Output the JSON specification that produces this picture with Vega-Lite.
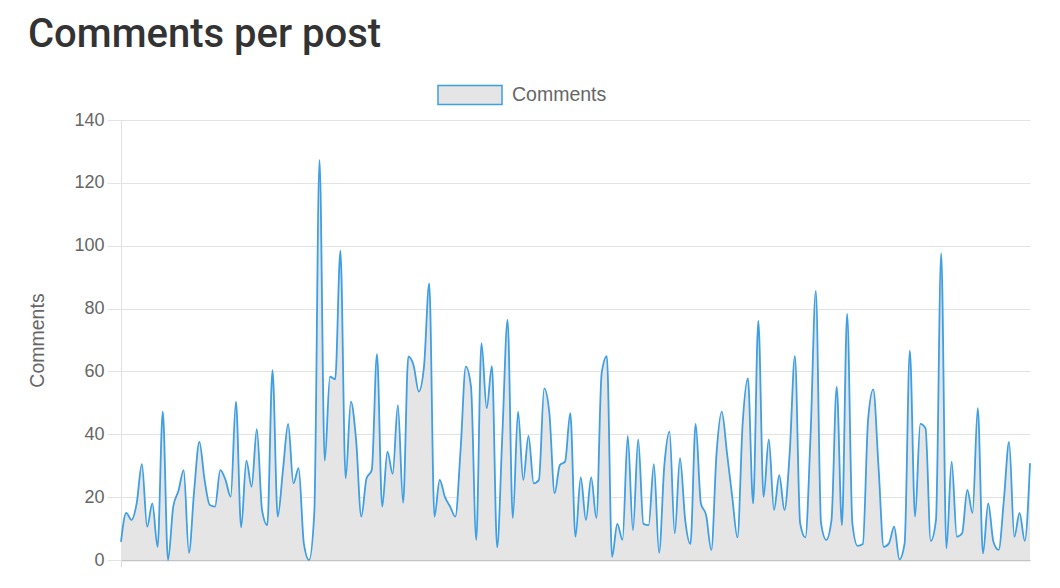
{
  "$schema": "https://vega.github.io/schema/vega-lite/v6.json",
  "autosize": "none",
  "width": 909,
  "height": 440,
  "padding": {"left": 121, "top": 120, "right": 30, "bottom": 28},
  "background": "#ffffff",
  "title": {
    "text": "Comments per post",
    "anchor": "start",
    "frame": "group",
    "dx": -93,
    "offset": 7,
    "font": "Roboto",
    "fontSize": 40,
    "fontWeight": 500,
    "color": "#333333"
  },
  "config": {
    "view": {"stroke": null},
    "font": "Liberation Sans"
  },
  "data": {
    "values": [
      {"i":0,"c":5.8},{"i":1,"c":15},{"i":2,"c":12.7},{"i":3,"c":18},{"i":4,"c":30.5},{"i":5,"c":10.6},{"i":6,"c":18},{"i":7,"c":4.2},{"i":8,"c":47.2},{"i":9,"c":0},
      {"i":10,"c":17},{"i":11,"c":22},{"i":12,"c":28.6},{"i":13,"c":2.3},{"i":14,"c":22},{"i":15,"c":37.6},{"i":16,"c":25.5},{"i":17,"c":17.5},{"i":18,"c":17},{"i":19,"c":28.6},
      {"i":20,"c":25.5},{"i":21,"c":20.1},{"i":22,"c":50.4},{"i":23,"c":10.4},{"i":24,"c":31.6},{"i":25,"c":23.3},{"i":26,"c":41.6},{"i":27,"c":15.9},{"i":28,"c":11.1},{"i":29,"c":60.4},
      {"i":30,"c":13.8},{"i":31,"c":28.6},{"i":32,"c":43.3},{"i":33,"c":24.4},{"i":34,"c":29.2},{"i":35,"c":5.3},{"i":36,"c":0},{"i":37,"c":15},{"i":38,"c":127.3},{"i":39,"c":31.6},
      {"i":40,"c":58.3},{"i":41,"c":57.5},{"i":42,"c":98.4},{"i":43,"c":26},{"i":44,"c":50.4},{"i":45,"c":38.2},{"i":46,"c":13.8},{"i":47,"c":26},{"i":48,"c":28.6},{"i":49,"c":65.5},
      {"i":50,"c":17},{"i":51,"c":34.5},{"i":52,"c":27.4},{"i":53,"c":49.3},{"i":54,"c":18.2},{"i":55,"c":64.7},{"i":56,"c":62},{"i":57,"c":53.6},{"i":58,"c":61.5},{"i":59,"c":88},
      {"i":60,"c":13.8},{"i":61,"c":25.5},{"i":62,"c":20.1},{"i":63,"c":17},{"i":64,"c":13.8},{"i":65,"c":35},{"i":66,"c":61.5},{"i":67,"c":55.1},{"i":68,"c":6.4},{"i":69,"c":69},
      {"i":70,"c":48.3},{"i":71,"c":61.7},{"i":72,"c":4},{"i":73,"c":40},{"i":74,"c":76.4},{"i":75,"c":13.3},{"i":76,"c":47.2},{"i":77,"c":25.5},{"i":78,"c":39.5},{"i":79,"c":24.4},
      {"i":80,"c":25.5},{"i":81,"c":54.6},{"i":82,"c":46.7},{"i":83,"c":21.2},{"i":84,"c":30.2},{"i":85,"c":31.3},{"i":86,"c":46.7},{"i":87,"c":7.4},{"i":88,"c":26.3},{"i":89,"c":12.7},
      {"i":90,"c":26.3},{"i":91,"c":13.3},{"i":92,"c":59.4},{"i":93,"c":64.9},{"i":94,"c":1},{"i":95,"c":11.5},{"i":96,"c":6.4},{"i":97,"c":39.5},{"i":98,"c":9.5},{"i":99,"c":38.4},
      {"i":100,"c":11.5},{"i":101,"c":11.1},{"i":102,"c":30.5},{"i":103,"c":2.3},{"i":104,"c":30},{"i":105,"c":40.8},{"i":106,"c":8.5},{"i":107,"c":32.4},{"i":108,"c":12.7},{"i":109,"c":5.1},
      {"i":110,"c":43.3},{"i":111,"c":18},{"i":112,"c":14.3},{"i":113,"c":3.2},{"i":114,"c":34},{"i":115,"c":47.2},{"i":116,"c":34},{"i":117,"c":20.1},{"i":118,"c":7.2},{"i":119,"c":43.5},
      {"i":120,"c":57.8},{"i":121,"c":18},{"i":122,"c":76.1},{"i":123,"c":20.1},{"i":124,"c":38.4},{"i":125,"c":15.9},{"i":126,"c":27},{"i":127,"c":15.9},{"i":128,"c":34},{"i":129,"c":64.9},
      {"i":130,"c":11.7},{"i":131,"c":7.2},{"i":132,"c":40},{"i":133,"c":85.6},{"i":134,"c":11.7},{"i":135,"c":6.4},{"i":136,"c":12.7},{"i":137,"c":55.1},{"i":138,"c":11.1},{"i":139,"c":78.3},
      {"i":140,"c":11.7},{"i":141,"c":4.5},{"i":142,"c":5.1},{"i":143,"c":44.5},{"i":144,"c":54.3},{"i":145,"c":29.7},{"i":146,"c":4.2},{"i":147,"c":5.3},{"i":148,"c":10.6},{"i":149,"c":0.2},
      {"i":150,"c":5.3},{"i":151,"c":66.6},{"i":152,"c":13.8},{"i":153,"c":43.3},{"i":154,"c":41.9},{"i":155,"c":6.1},{"i":156,"c":12.7},{"i":157,"c":97.6},{"i":158,"c":3.7},{"i":159,"c":31.3},
      {"i":160,"c":7.4},{"i":161,"c":8.5},{"i":162,"c":22.3},{"i":163,"c":15},{"i":164,"c":48.3},{"i":165,"c":2.1},{"i":166,"c":18},{"i":167,"c":5.8},{"i":168,"c":3.2},{"i":169,"c":19.1},
      {"i":170,"c":37.6},{"i":171,"c":7.4},{"i":172,"c":15},{"i":173,"c":6.1},{"i":174,"c":30.8}
    ]
  },
  "encoding": {
    "x": {
      "field": "i",
      "type": "quantitative",
      "scale": {"domain": [0, 174], "nice": false, "zero": false},
      "axis": {
        "title": null,
        "labels": false,
        "grid": false,
        "values": [0],
        "tickSize": 7,
        "tickColor": "#dddddd",
        "domainColor": "#c4c4c4",
        "domainWidth": 1.5
      }
    },
    "y": {
      "field": "c",
      "type": "quantitative",
      "scale": {"domain": [0, 140], "nice": false},
      "axis": {
        "title": "Comments",
        "titleFont": "Liberation Sans",
        "titleFontSize": 19.5,
        "titleFontWeight": "normal",
        "titleColor": "#666666",
        "titlePadding": 26,
        "values": [0, 20, 40, 60, 80, 100, 120, 140],
        "labelFont": "Liberation Sans",
        "labelFontSize": 18,
        "labelColor": "#666666",
        "labelPadding": 3,
        "tickSize": 14,
        "tickColor": "#e3e3e3",
        "gridColor": "#e3e3e3",
        "domainColor": "#e0e0e0"
      }
    }
  },
  "layer": [
    {
      "mark": {"type": "area", "interpolate": "monotone"},
      "encoding": {
        "fill": {
          "datum": "Comments",
          "type": "nominal",
          "scale": {"range": ["#e5e5e5"]},
          "legend": {
            "title": null,
            "orient": "none",
            "legendX": 316,
            "legendY": -58,
            "symbolType": "M-1,-0.297H1V0.297H-1Z",
            "symbolSize": 4096,
            "symbolStrokeWidth": 1.5,
            "symbolOpacity": 1,
            "labelFont": "Liberation Sans",
            "labelFontSize": 19.5,
            "labelColor": "#666666",
            "labelOffset": 9,
            "encode": {"symbols": {"update": {"stroke": {"value": "#3e9fe2"}, "strokeWidth": {"value": 1.5}}}}
          }
        }
      }
    },
    {
      "mark": {"type": "line", "interpolate": "monotone", "color": "#3e9fe2", "strokeWidth": 1.8}
    }
  ]
}
